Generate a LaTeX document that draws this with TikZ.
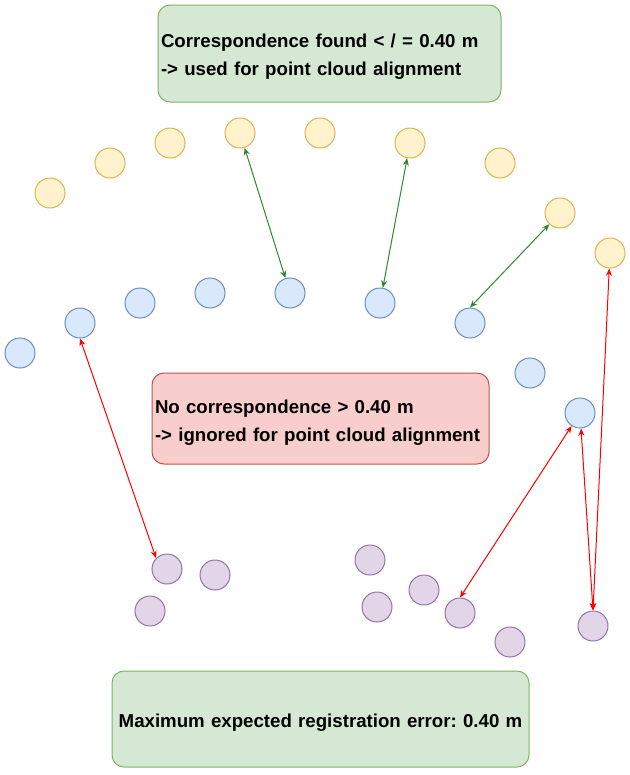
\documentclass[tikz,border=0pt]{standalone}
\usepackage{fontspec}
\setmainfont{Liberation Sans}
\frenchspacing
\usetikzlibrary{arrows.meta}
\definecolor{yfill}{HTML}{FFF2CC}
\definecolor{ydraw}{HTML}{D6B656}
\definecolor{bfill}{HTML}{DAE8FC}
\definecolor{bdraw}{HTML}{6C8EBF}
\definecolor{pfill}{HTML}{E1D5E7}
\definecolor{pdraw}{HTML}{9673A6}
\definecolor{gfill}{HTML}{D5E8D4}
\definecolor{gdraw}{HTML}{82B366}
\definecolor{rfill}{HTML}{F8CECC}
\definecolor{rdraw}{HTML}{B85450}
\definecolor{okline}{RGB}{45,135,45}
\begin{document}
\begin{tikzpicture}[
    x=0.75pt, y=-0.75pt,
    pt/.style={circle, line width=0.75pt, minimum size=22.5pt, inner sep=0pt},
    ypt/.style={pt, draw=ydraw, fill=yfill},
    bpt/.style={pt, draw=bdraw, fill=bfill},
    ppt/.style={pt, draw=pdraw, fill=pfill},
    note/.style={rounded corners=9pt, line width=0.75pt, inner xsep=2.25pt,
        font=\bfseries\fontsize{14}{21}\selectfont, align=left},
    found/.style={<->, okline, line width=0.75pt},
    missed/.style={<->, red, line width=0.75pt},
    >={Stealth[length=5.5pt,width=4.5pt]}
]
\useasboundingbox (0,0) rectangle (630,775);

% boxes
\node[note, fill=gfill, draw=gdraw, minimum height=72.75pt, text width=252.75pt,
    text height=14.25pt, text depth=24pt] (top) at (329.5,53.5)
    {Correspondence found < / = 0.40 m\\-> used for point cloud alignment};
\node[note, fill=rfill, draw=rdraw, minimum height=68.25pt, text width=248.25pt,
    text height=15.75pt, text depth=24pt] (mid) at (320.5,418.5)
    {No correspondence > 0.40 m\\-> ignored for point cloud alignment};
\node[note, fill=gfill, draw=gdraw, minimum height=72pt, text width=308.25pt, align=center,
    text height=15pt, text depth=3pt] (bot) at (320.5,719)
    {Maximum expected registration error: 0.40 m};

% yellow points
\node[ypt] (y1) at (50,193) {};
\node[ypt] (y2) at (110,163) {};
\node[ypt] (y3) at (170,143) {};
\node[ypt] (y4) at (240,133) {};
\node[ypt] (y5) at (320,133) {};
\node[ypt] (y6) at (410,143) {};
\node[ypt] (y7) at (500,163) {};
\node[ypt] (y8) at (560,213) {};
\node[ypt] (y9) at (610,253) {};

% blue points
\node[bpt] (b1) at (20,353) {};
\node[bpt] (b2) at (80,323) {};
\node[bpt] (b3) at (140,303) {};
\node[bpt] (b4) at (210,293) {};
\node[bpt] (b5) at (290,293) {};
\node[bpt] (b6) at (380,303) {};
\node[bpt] (b7) at (470,323) {};
\node[bpt] (b8) at (530,373) {};
\node[bpt] (b9) at (580,413) {};

% purple points
\node[ppt] (p1) at (167,569) {};
\node[ppt] (p2) at (215,575) {};
\node[ppt] (p3) at (150,611) {};
\node[ppt] (p4) at (370,560) {};
\node[ppt] (p5) at (377,607) {};
\node[ppt] (p6) at (424,590) {};
\node[ppt] (p7) at (460,613) {};
\node[ppt] (p8) at (510,642) {};
\node[ppt] (p9) at (593,626) {};

% correspondences
\draw[found] (y4) -- (b5);
\draw[found] (y6) -- (b6);
\draw[found] (y8) -- (b7.north);
\draw[missed] (b2.south) -- (p1.north west);
\draw[missed] (b9) -- (p7.north);
\draw[missed] (b9) -- (p9.north);
\draw[missed] (y9) -- (p9.north);
\end{tikzpicture}
\end{document}
